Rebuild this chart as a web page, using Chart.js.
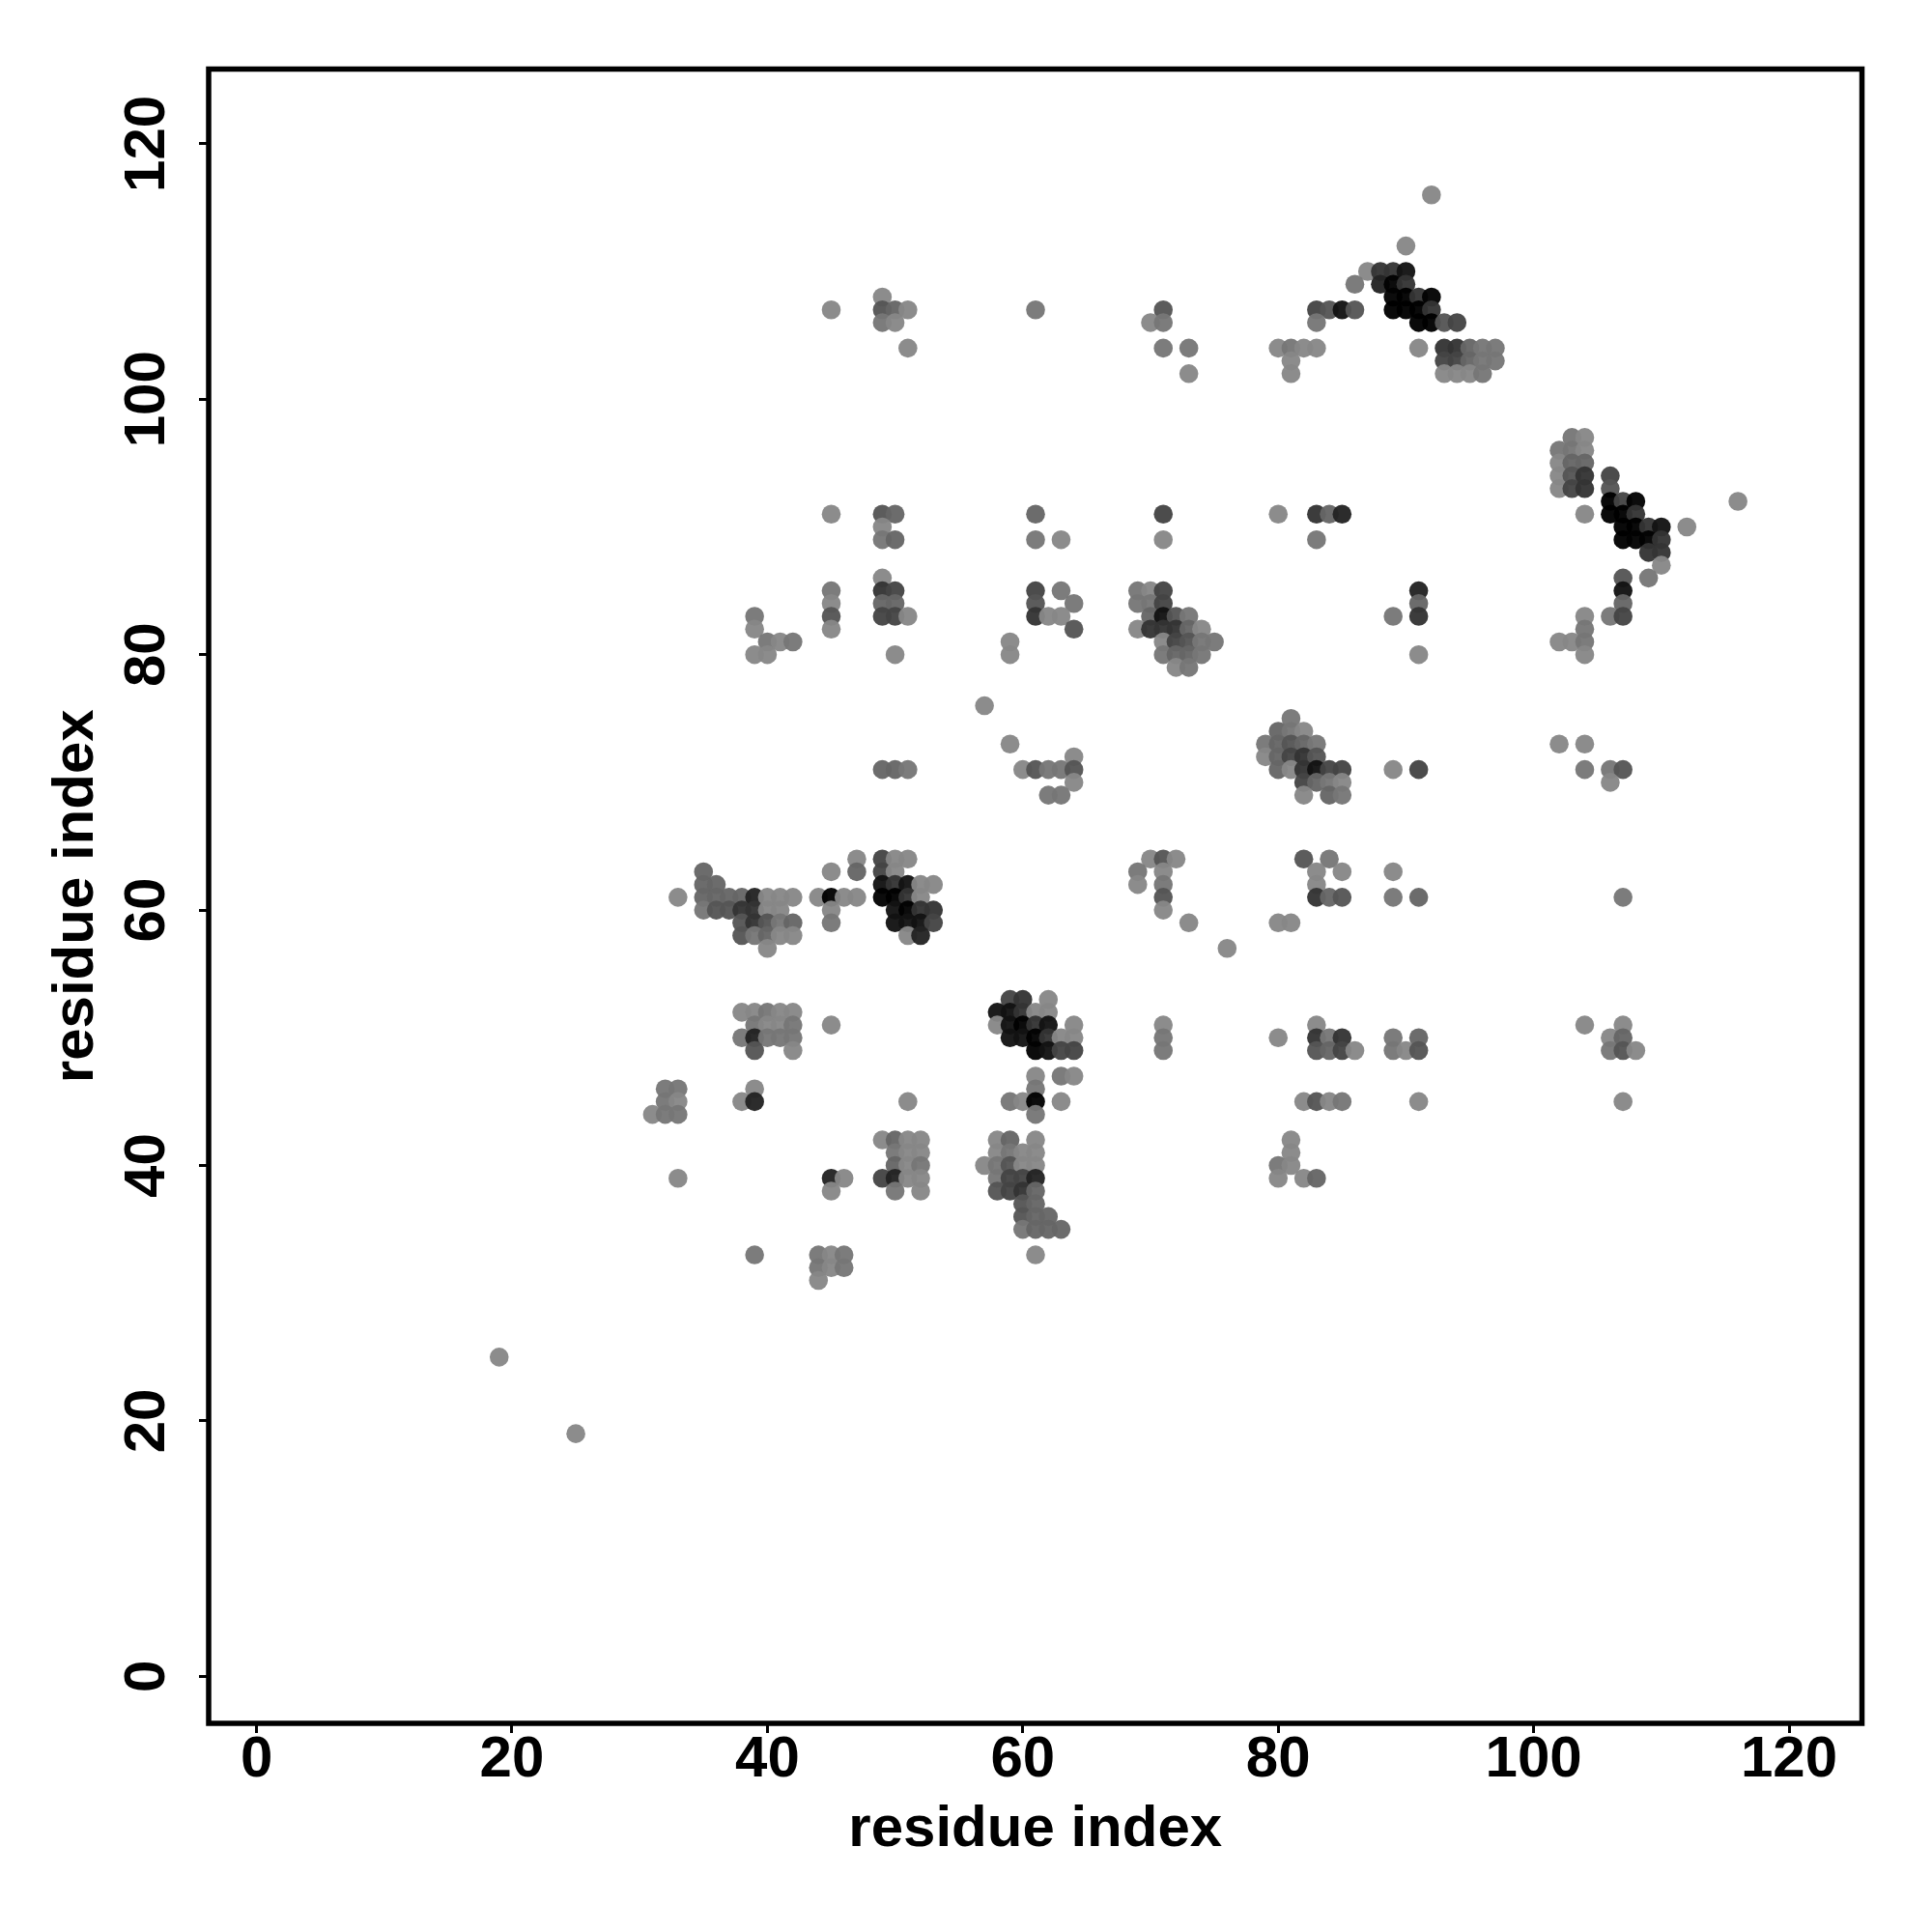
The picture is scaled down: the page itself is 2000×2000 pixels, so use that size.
<!DOCTYPE html>
<html lang="en">
<head>
  <meta charset="UTF-8" />
  <title>residue contact map</title>
  <script src="https://cdn.jsdelivr.net/npm/chart.js"></script>
  <style>
    body { margin: 0; background: #fff; }
    canvas { display: block; }
  </style>
</head>
<body>
  <canvas id="contactChart" width="2000" height="2000"></canvas>
  <script>
    // contact map, read row by row: y residue, x residues in that row, darkness level 0-9 per point
    const rowY = [116, 112, 110, 109, 108, 107, 106, 104, 103, 102, 97, 96, 95, 94, 93, 92, 91, 90, 89, 88, 87, 86, 85, 84, 83, 82, 81, 80, 79, 76, 75, 74, 73, 72, 71, 70, 69, 64, 63, 62, 61, 60, 59, 58, 57, 53, 52, 51, 50, 49, 47, 46, 45, 44, 42, 41, 40, 39, 38, 37, 36, 35, 33, 32, 31, 25, 19];
    const rowX = [
      [92],
      [90],
      [87, 88, 89, 90],
      [86, 88, 89, 90],
      [49, 89, 90, 91, 92],
      [45, 49, 50, 51, 61, 71, 83, 84, 85, 86, 89, 90, 91, 92],
      [49, 50, 70, 71, 83, 91, 92, 93, 94],
      [51, 71, 73, 80, 81, 82, 83, 91, 93, 94, 95, 96, 97],
      [81, 93, 94, 95, 96, 97],
      [73, 81, 93, 94, 95, 96],
      [103, 104],
      [102, 103, 104],
      [102, 103, 104],
      [102, 103, 104, 106],
      [102, 103, 104, 106],
      [106, 107, 108, 116],
      [45, 49, 50, 61, 71, 80, 83, 84, 85, 104, 106, 107, 108],
      [49, 107, 108, 109, 110, 112],
      [49, 50, 61, 63, 71, 83, 107, 108, 109, 110],
      [109, 110],
      [110],
      [49, 107, 109],
      [45, 49, 50, 61, 63, 69, 70, 71, 91, 107],
      [45, 49, 50, 61, 64, 69, 70, 71, 91, 107],
      [39, 45, 49, 50, 51, 61, 62, 63, 70, 71, 72, 73, 89, 91, 104, 106, 107],
      [39, 45, 64, 69, 70, 71, 72, 73, 74, 104],
      [40, 41, 42, 59, 71, 72, 73, 74, 75, 102, 103, 104],
      [39, 40, 50, 59, 71, 72, 73, 74, 91, 104],
      [72, 73],
      [57],
      [81],
      [80, 81, 82],
      [59, 79, 80, 81, 82, 83, 102, 104],
      [64, 79, 80, 81, 82, 83],
      [49, 50, 51, 60, 61, 62, 63, 64, 80, 81, 82, 83, 84, 85, 89, 91, 104, 106, 107],
      [64, 82, 83, 84, 85, 106],
      [62, 63, 82, 84, 85],
      [47, 49, 50, 51, 70, 71, 72, 82, 84],
      [35, 45, 47, 49, 50, 69, 71, 83, 85, 89],
      [35, 36, 49, 50, 51, 52, 53, 69, 71, 83],
      [33, 35, 36, 37, 38, 39, 40, 41, 42, 44, 45, 46, 47, 49, 50, 51, 52, 71, 83, 84, 85, 89, 91, 107],
      [35, 36, 37, 38, 39, 40, 41, 45, 50, 51, 52, 53, 71],
      [38, 39, 40, 41, 42, 45, 50, 51, 52, 53, 73, 80, 81],
      [38, 39, 40, 41, 42, 51, 52],
      [40, 76],
      [59, 60, 62],
      [38, 39, 40, 41, 42, 58, 59, 60, 61, 62],
      [39, 40, 41, 42, 45, 58, 59, 60, 61, 62, 64, 71, 83, 104, 107],
      [38, 39, 40, 41, 42, 59, 60, 61, 62, 63, 64, 71, 80, 83, 84, 85, 89, 91, 106, 107],
      [39, 42, 61, 62, 63, 64, 71, 83, 84, 85, 86, 89, 90, 91, 106, 107, 108],
      [61, 63, 64],
      [32, 33, 39, 61],
      [32, 33, 38, 39, 51, 59, 60, 61, 63, 82, 83, 84, 85, 91, 107],
      [31, 32, 33, 61],
      [49, 50, 51, 52, 58, 59, 61, 81],
      [50, 51, 52, 58, 59, 60, 61, 81],
      [50, 51, 52, 57, 58, 59, 60, 61, 80, 81],
      [33, 45, 46, 49, 50, 51, 52, 58, 59, 60, 61, 80, 82, 83],
      [45, 50, 52, 58, 59, 60, 61],
      [60, 61],
      [60, 61, 62],
      [60, 61, 62, 63],
      [39, 44, 45, 46, 61],
      [44, 45, 46],
      [44],
      [19],
      [25]
    ];
    const rowLevel = [
      [0],
      [0],
      [0, 5, 5, 7],
      [1, 6, 8, 5],
      [0, 8, 9, 5, 8],
      [0, 3, 2, 0, 1, 3, 4, 3, 7, 3, 9, 9, 9, 5],
      [1, 0, 0, 1, 1, 9, 9, 3, 4],
      [0, 1, 1, 0, 1, 0, 0, 0, 5, 5, 2, 1, 1],
      [0, 4, 4, 2, 1, 1],
      [0, 0, 0, 0, 0, 1],
      [1, 0],
      [1, 1, 0],
      [0, 2, 2],
      [0, 3, 5, 4],
      [0, 4, 5, 3],
      [9, 4, 8, 0],
      [0, 3, 2, 2, 4, 0, 5, 2, 6, 0, 9, 9, 5],
      [0, 9, 9, 5, 7, 0],
      [1, 2, 1, 0, 0, 1, 9, 8, 8, 5],
      [5, 5],
      [0],
      [0, 3, 1],
      [1, 5, 4, 4, 1, 1, 0, 4, 6, 7],
      [0, 2, 2, 3, 1, 1, 1, 4, 2, 2],
      [1, 3, 4, 4, 0, 5, 0, 0, 2, 7, 3, 1, 1, 5, 0, 1, 4],
      [0, 0, 3, 0, 5, 5, 5, 2, 0, 1],
      [1, 0, 1, 0, 0, 4, 3, 1, 1, 0, 0, 1],
      [0, 0, 0, 0, 1, 2, 2, 1, 0, 0],
      [0, 1],
      [0],
      [1],
      [2, 1, 0],
      [0, 1, 2, 3, 2, 1, 0, 0],
      [0, 0, 2, 4, 5, 3],
      [2, 2, 1, 0, 3, 1, 1, 3, 2, 0, 5, 7, 4, 4, 0, 4, 1, 1, 3],
      [0, 4, 2, 1, 0, 0],
      [1, 1, 0, 2, 1],
      [0, 4, 0, 0, 0, 3, 0, 3, 1],
      [2, 0, 2, 4, 0, 1, 0, 0, 0, 0],
      [2, 2, 7, 5, 7, 0, 0, 0, 1, 0],
      [0, 2, 2, 2, 2, 6, 0, 0, 0, 0, 8, 0, 0, 8, 9, 5, 0, 3, 5, 2, 3, 1, 2, 1],
      [1, 3, 3, 5, 5, 0, 0, 0, 7, 8, 5, 5, 0],
      [3, 5, 3, 1, 2, 1, 7, 7, 7, 4, 0, 0, 0],
      [3, 1, 2, 0, 0, 0, 6],
      [0, 0],
      [4, 5, 0],
      [0, 0, 1, 0, 0, 7, 7, 5, 0, 0],
      [1, 0, 0, 1, 0, 0, 7, 8, 5, 7, 0, 0, 0, 0, 0],
      [1, 6, 1, 1, 1, 7, 7, 8, 5, 0, 0, 1, 0, 5, 1, 5, 1, 2, 0, 2],
      [3, 0, 8, 7, 4, 4, 1, 3, 2, 4, 0, 1, 0, 3, 1, 3, 0],
      [0, 1, 0],
      [1, 1, 0, 1],
      [1, 0, 0, 6, 0, 1, 0, 8, 0, 0, 3, 0, 1, 0, 0],
      [0, 1, 1, 1],
      [0, 2, 0, 0, 0, 2, 0, 0],
      [1, 0, 0, 0, 1, 0, 0, 0],
      [2, 0, 1, 0, 1, 3, 0, 0, 1, 0],
      [0, 6, 0, 4, 6, 0, 0, 1, 4, 4, 6, 0, 0, 2],
      [0, 1, 0, 3, 4, 5, 2],
      [3, 2],
      [3, 2, 2],
      [1, 2, 2, 2],
      [1, 1, 0, 1, 0],
      [1, 0, 1],
      [0],
      [0],
      [0]
    ];
    const tickStep = 20;
    const axisTitle = 'residue index';

    const contacts = [];
    rowY.forEach(function(y, i) {
      rowX[i].forEach(function(x, j) {
        contacts.push({ x: x, y: y, level: rowLevel[i][j] });
      });
    });

    // level 0 is the mid gray of a lone contact, 9 is black
    function levelColor(level) {
      const alpha = 0.96;
      const wanted = Math.max(0, 140 - 16 * level);
      const g = Math.max(0, Math.round((wanted - 255 * (1 - alpha)) / alpha));
      return 'rgba(' + g + ',' + g + ',' + g + ',' + alpha + ')';
    }

    const framePlugin = {
      id: 'frame',
      afterDatasetsDraw(chart) {
        const a = chart.chartArea;
        const ctx = chart.ctx;
        ctx.save();
        ctx.strokeStyle = '#000';
        ctx.lineWidth = 5.5;
        ctx.strokeRect(a.left, a.top, a.right - a.left, a.bottom - a.top);
        ctx.restore();
      }
    };

    const tickFont = { family: 'Liberation Sans', size: 60, weight: 'bold' };
    const titleFont = { family: 'Liberation Sans', size: 60, weight: 'bold' };

    new Chart(document.getElementById('contactChart'), {
      type: 'scatter',
      data: {
        datasets: [{
          data: contacts,
          pointRadius: 9.8,
          pointBorderWidth: 0,
          pointBackgroundColor: function(c) { return levelColor(c.raw.level); }
        }]
      },
      plugins: [framePlugin],
      options: {
        responsive: false,
        animation: false,
        events: [],
        layout: { padding: { top: 71.5, right: 72.5, left: 0, bottom: 0 } },
        plugins: { legend: { display: false }, tooltip: { enabled: false } },
        scales: {
          x: {
            min: -3.75,
            max: 125.71,
            afterFit(scale) { scale.height = 216; },
            border: { display: false },
            grid: { drawOnChartArea: false, tickLength: 10, tickWidth: 3, tickColor: '#000' },
            ticks: { stepSize: tickStep, includeBounds: false, maxRotation: 0, autoSkip: false, color: '#000', font: tickFont, padding: -8 },
            title: { display: true, text: axisTitle, color: '#000', font: titleFont, padding: { top: 0, bottom: 70 } }
          },
          y: {
            min: -3.68,
            max: 125.85,
            afterFit(scale) { scale.width = 216; },
            border: { display: false },
            grid: { drawOnChartArea: false, tickLength: 10, tickWidth: 3, tickColor: '#000' },
            ticks: { stepSize: tickStep, includeBounds: false, minRotation: 90, maxRotation: 90, autoSkip: false, crossAlign: 'center', color: '#000', font: tickFont, padding: 2 },
            title: { display: true, text: axisTitle, color: '#000', font: titleFont, padding: { top: 43, bottom: 0 } }
          }
        }
      }
    });
  </script>
</body>
</html>
